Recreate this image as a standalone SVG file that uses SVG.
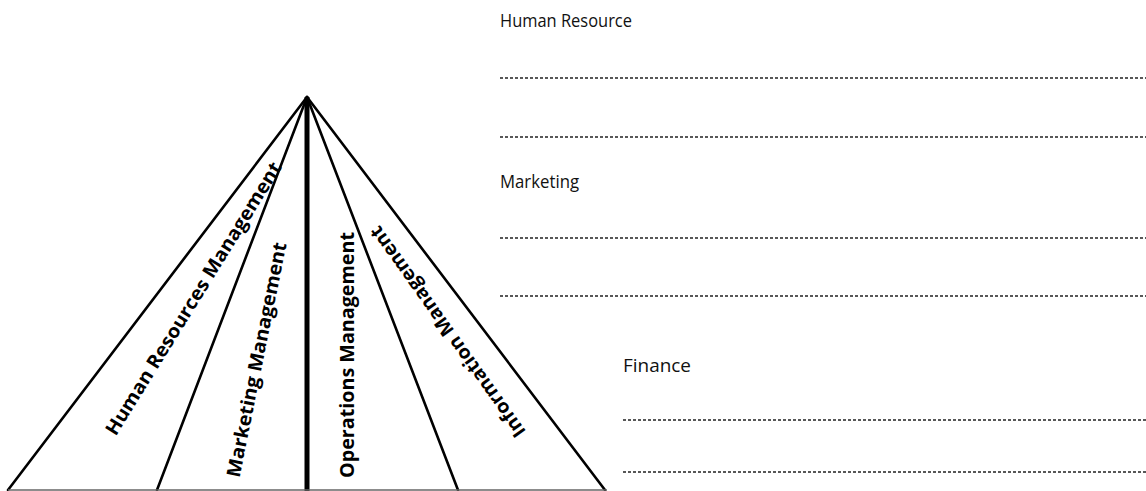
<svg xmlns="http://www.w3.org/2000/svg" width="1146" height="491" viewBox="0 0 1146 491">
  <style>
    .edge { stroke: #000; stroke-width: 2.6; fill: none; stroke-linecap: round; }
    .axis { stroke: #000; stroke-width: 5; fill: none; }
    .base { stroke: #666; stroke-width: 1.5; fill: none; }
    .dash { stroke: #222; stroke-width: 1.4; stroke-dasharray: 3 2; fill: none; }
    .lbl { font-family: "Open Sans", "Noto Sans", sans-serif; font-weight: bold; font-size: 19px; fill: #000; text-anchor: middle; }
    .head { font-family: "Open Sans", "Noto Sans", sans-serif; font-size: 18px; fill: #111; }
  </style>
  <rect width="1146" height="491" fill="#fff"/>

  <g id="connectors">
    <line class="edge" x1="307" y1="97" x2="8" y2="490"/>
    <line class="edge" x1="307" y1="97" x2="157" y2="490"/>
    <line class="axis" x1="307" y1="97" x2="307" y2="491"/>
    <line class="edge" x1="307" y1="97" x2="458" y2="490"/>
    <line class="edge" x1="307" y1="97" x2="605" y2="490"/>
    <line class="base" x1="8" y1="490" x2="607" y2="490"/>
  </g>

  <g id="hrm">
    <text class="lbl" transform="translate(199,302) rotate(-58.3)" textLength="317" lengthAdjust="spacingAndGlyphs">Human Resources Management</text>
  </g>
  <g id="mm">
    <text class="lbl" transform="translate(263,361) rotate(-78.6)" textLength="239" lengthAdjust="spacingAndGlyphs">Marketing Management</text>
  </g>
  <g id="om">
    <text class="lbl" transform="translate(354,355) rotate(-90)" textLength="246" lengthAdjust="spacingAndGlyphs">Operations Management</text>
  </g>
  <g id="im">
    <text class="lbl" transform="translate(453,328) rotate(-125.4)" textLength="254" lengthAdjust="spacingAndGlyphs">Information Management</text>
  </g>

  <g id="human-resource">
    <text class="head" x="500" y="27" textLength="132" lengthAdjust="spacingAndGlyphs">Human Resource</text>
    <line class="dash" x1="500" y1="78" x2="1146" y2="78"/>
    <line class="dash" x1="500" y1="137" x2="1146" y2="137"/>
  </g>
  <g id="marketing">
    <text class="head" x="500" y="188" textLength="79" lengthAdjust="spacingAndGlyphs">Marketing</text>
    <line class="dash" x1="500" y1="238" x2="1146" y2="238"/>
    <line class="dash" x1="500" y1="296" x2="1146" y2="296"/>
  </g>
  <g id="finance">
    <text class="head" x="623" y="372" textLength="68" lengthAdjust="spacingAndGlyphs">Finance</text>
    <line class="dash" x1="623" y1="420" x2="1146" y2="420"/>
    <line class="dash" x1="623" y1="472" x2="1146" y2="472"/>
  </g>
</svg>
